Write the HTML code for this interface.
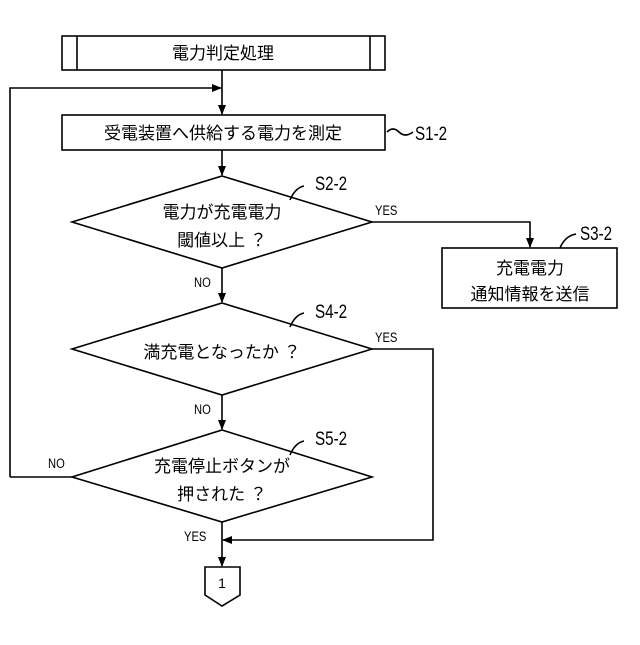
<!DOCTYPE html>
<html><head><meta charset="utf-8"><style>
html,body{margin:0;padding:0;background:#fff;}
svg text{font-family:"Liberation Sans","Noto Sans CJK JP",sans-serif;fill:#000;}
.j{font-size:17px;}
.l{font-size:19px;}
.s{font-size:14px;}
</style></head><body>
<svg width="640" height="640" viewBox="0 0 640 640" xmlns="http://www.w3.org/2000/svg">
<defs><marker id="a" markerWidth="10" markerHeight="10" refX="9" refY="5" orient="auto" markerUnits="userSpaceOnUse"><path d="M0,1 L10,5 L0,9 z" fill="#000"/></marker></defs>
<g fill="none" stroke="#000" stroke-width="1.6">
<rect x="62" y="36" width="323" height="34"/>
<line x1="77" y1="36" x2="77" y2="70"/><line x1="370" y1="36" x2="370" y2="70"/>
<line x1="222" y1="70" x2="222" y2="114" marker-end="url(#a)"/>
<polyline points="10,477 10,88 221,88" marker-end="url(#a)"/>
<rect x="62" y="115" width="323" height="35"/>
<path d="M387,132 q6,-6 12,0 t14,0"/>
<line x1="222" y1="150" x2="222" y2="175" marker-end="url(#a)"/>
<polygon points="222,176 372,222 222,268 72,222"/>
<path d="M290,200 q5,-12 14,-14"/>
<polyline points="372,222 530,222 530,247" marker-end="url(#a)"/>
<rect x="442" y="248" width="175" height="60"/>
<path d="M560,248 q5,-12 16,-14"/>
<line x1="222" y1="268" x2="222" y2="302" marker-end="url(#a)"/>
<polygon points="222,303 372,349 222,395 72,349"/>
<path d="M290,327 q5,-12 14,-14"/>
<polyline points="372,349 433,349 433,540 223,540" marker-end="url(#a)"/>
<line x1="222" y1="395" x2="222" y2="429" marker-end="url(#a)"/>
<polygon points="222,430 372,477 222,522 72,477"/>
<path d="M290,455 q5,-12 14,-14"/>
<line x1="72" y1="477" x2="10" y2="477"/>
<line x1="222" y1="522" x2="222" y2="566" marker-end="url(#a)"/>
<polygon points="205,567 240,567 240,595 222,606 205,595"/>
</g>
<text class="j" x="223" y="59" text-anchor="middle">電力判定処理</text>
<text class="j" x="223" y="139" text-anchor="middle">受電装置へ供給する電力を測定</text>
<text class="l" x="415" y="140" transform="translate(415 0) scale(0.8 1) translate(-415 0)">S1-2</text>
<text class="j" x="222" y="218" text-anchor="middle">電力が充電電力</text>
<text class="j" x="222" y="246" text-anchor="middle">閾値以上 ？</text>
<text class="l" x="315" y="190" transform="translate(315 0) scale(0.8 1) translate(-315 0)">S2-2</text>
<text class="s" x="375" y="215" transform="translate(375 0) scale(0.8 1) translate(-375 0)">YES</text>
<text class="j" x="530" y="274" text-anchor="middle">充電電力</text>
<text class="j" x="530" y="300" text-anchor="middle">通知情報を送信</text>
<text class="l" x="580" y="240" transform="translate(580 0) scale(0.8 1) translate(-580 0)">S3-2</text>
<text class="s" x="194" y="287" transform="translate(194 0) scale(0.8 1) translate(-194 0)">NO</text>
<text class="j" x="222" y="358" text-anchor="middle">満充電となったか ？</text>
<text class="l" x="315" y="318" transform="translate(315 0) scale(0.8 1) translate(-315 0)">S4-2</text>
<text class="s" x="375" y="342" transform="translate(375 0) scale(0.8 1) translate(-375 0)">YES</text>
<text class="s" x="194" y="414" transform="translate(194 0) scale(0.8 1) translate(-194 0)">NO</text>
<text class="j" x="222" y="472" text-anchor="middle">充電停止ボタンが</text>
<text class="j" x="222" y="500" text-anchor="middle">押された ？</text>
<text class="l" x="315" y="445" transform="translate(315 0) scale(0.8 1) translate(-315 0)">S5-2</text>
<text class="s" x="48" y="468" transform="translate(48 0) scale(0.8 1) translate(-48 0)">NO</text>
<text class="s" x="184" y="541" transform="translate(184 0) scale(0.8 1) translate(-184 0)">YES</text>
<text class="s" x="222" y="588" text-anchor="middle">1</text>
</svg>
</body></html>
